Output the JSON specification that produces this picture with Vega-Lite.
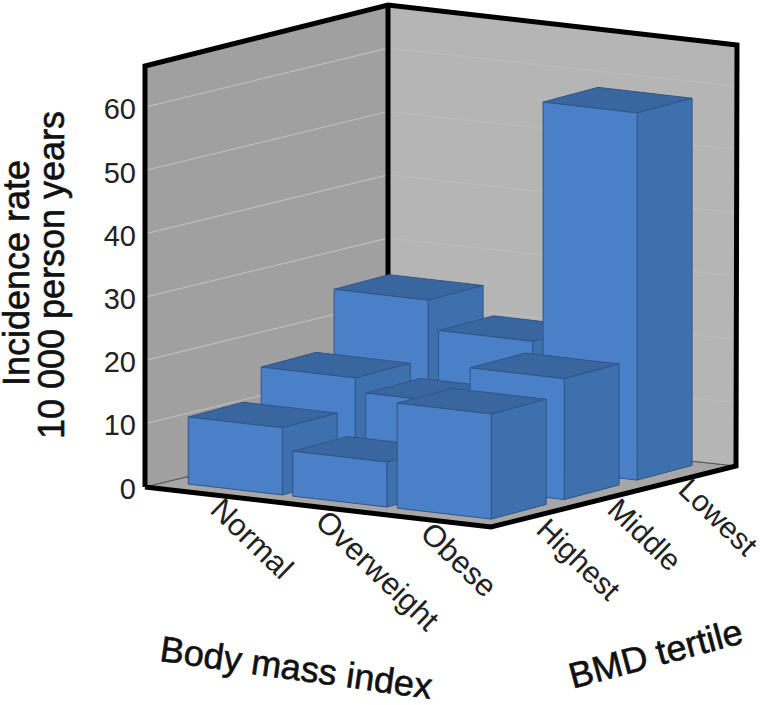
{"$schema":"https://vega.github.io/schema/vega-lite/v6.json","width":768,"height":705,"padding":0,"autosize":"none","background":"white","view":{"stroke":null},"config":{"font":"Liberation Sans"},
"datasets":{"bars":[
{"bmi":"Normal","bmd":"Lowest","rate":24.6},{"bmi":"Overweight","bmd":"Lowest","rate":20},{"bmi":"Obese","bmd":"Lowest","rate":58},
{"bmi":"Normal","bmd":"Middle","rate":15.4},{"bmi":"Overweight","bmd":"Middle","rate":13.2},{"bmi":"Obese","bmd":"Middle","rate":19.1},
{"bmi":"Normal","bmd":"Highest","rate":10.6},{"bmi":"Overweight","bmd":"Highest","rate":7.1},{"bmi":"Obese","bmd":"Highest","rate":16.6}],
"ticks":[{"v":0},{"v":10},{"v":20},{"v":30},{"v":40},{"v":50},{"v":60}],
"walls":[{"wall":"floor"},{"wall":"left"},{"wall":"back"}]},
"projection":{"type":"identity","scale":1,"translate":[0,0]},
"resolve":{"scale":{"fill":"independent"}},
"layer":[
{"data":{"name":"walls"},"transform":[
{"calculate":"{floor:[[145,487],[491,527],[736,466],[388,428]],left:[[145,487],[388,428],[388,5],[145,66]],back:[[388,428],[736,466],[737,45],[388,5]]}[datum.wall]","as":"pts"},
{"calculate":"{type:'Polygon',coordinates:[[datum.pts[0],datum.pts[1],datum.pts[2],datum.pts[3],datum.pts[0]]]}","as":"geo"}],
"mark":{"type":"geoshape","stroke":"#555555","strokeWidth":1},
"encoding":{"shape":{"field":"geo","type":"geojson"},"fill":{"field":"wall","type":"nominal","legend":null,"scale":{"domain":["floor","left","back"],"range":["#a6a6a6","#a0a0a0","#b5b5b5"]}}}},
{"data":{"name":"ticks"},"transform":[{"filter":"datum.v>0"},
{"calculate":"{type:'LineString',coordinates:[[145,487-6.33*datum.v],[388,428-6.33*datum.v]]}","as":"geo"}],
"mark":{"type":"geoshape","filled":false,"stroke":"#bebebe","strokeWidth":1.2},
"encoding":{"shape":{"field":"geo","type":"geojson"}}},
{"data":{"name":"ticks"},"transform":[{"filter":"datum.v>0"},
{"calculate":"{type:'LineString',coordinates:[[388,428-6.33*datum.v],[736,466-6.33*datum.v]]}","as":"geo"}],
"mark":{"type":"geoshape","filled":false,"stroke":"#bdbdbd","strokeWidth":1},
"encoding":{"shape":{"field":"geo","type":"geojson"}}},
{"data":{"values":[{"edge":"outline"},{"edge":"corner"}]},"transform":[
{"calculate":"datum.edge=='outline'?{type:'LineString',coordinates:[[145,487],[491,527],[736,466],[737,45],[388,5],[145,66],[145,487]]}:{type:'LineString',coordinates:[[388,5],[388,428]]}","as":"geo"}],
"mark":{"type":"geoshape","filled":false,"stroke":"black","strokeWidth":5,"strokeJoin":"miter"},
"encoding":{"shape":{"field":"geo","type":"geojson"}}},
{"data":{"name":"bars"},"transform":[
{"calculate":"['top','side','front']","as":"face"},{"flatten":["face"]},
{"calculate":"0.065+0.302*indexof(['Normal','Overweight','Obese'],datum.bmi)","as":"u0"},
{"calculate":"0.0855+0.30*indexof(['Highest','Middle','Lowest'],datum.bmd)","as":"v0"},
{"calculate":"datum.u0+0.272","as":"u1"},{"calculate":"datum.v0+0.226","as":"v1"},
{"calculate":"datum.face=='top'?[[datum.u0,datum.v0,datum.rate],[datum.u1,datum.v0,datum.rate],[datum.u1,datum.v1,datum.rate],[datum.u0,datum.v1,datum.rate]]:datum.face=='side'?[[datum.u1,datum.v0,0],[datum.u1,datum.v1,0],[datum.u1,datum.v1,datum.rate],[datum.u1,datum.v0,datum.rate]]:[[datum.u0,datum.v0,0],[datum.u1,datum.v0,0],[datum.u1,datum.v0,datum.rate],[datum.u0,datum.v0,datum.rate]]","as":"p"},
{"calculate":"{type:'Polygon',coordinates:[[[145+346*datum.p[0][0]+243*datum.p[0][1],487+40*datum.p[0][0]-65*datum.p[0][1]-6.33*datum.p[0][2]],[145+346*datum.p[1][0]+243*datum.p[1][1],487+40*datum.p[1][0]-65*datum.p[1][1]-6.33*datum.p[1][2]],[145+346*datum.p[2][0]+243*datum.p[2][1],487+40*datum.p[2][0]-65*datum.p[2][1]-6.33*datum.p[2][2]],[145+346*datum.p[3][0]+243*datum.p[3][1],487+40*datum.p[3][0]-65*datum.p[3][1]-6.33*datum.p[3][2]],[145+346*datum.p[0][0]+243*datum.p[0][1],487+40*datum.p[0][0]-65*datum.p[0][1]-6.33*datum.p[0][2]]]]}","as":"geo"}],
"mark":{"type":"geoshape","stroke":"#2f5587","strokeWidth":1},
"encoding":{"shape":{"field":"geo","type":"geojson"},"fill":{"field":"face","type":"nominal","legend":null,"scale":{"domain":["top","side","front"],"range":["#3a669f","#3f70ae","#4a80c8"]}}}},
{"data":{"name":"ticks"},"transform":[{"calculate":"136","as":"px"},{"calculate":"489.5-6.32*datum.v","as":"py"}],
"mark":{"type":"text","align":"right","baseline":"middle","fontSize":29,"color":"#222"},
"encoding":{"x":{"field":"px","type":"quantitative","scale":null},"y":{"field":"py","type":"quantitative","scale":null},"text":{"field":"v","type":"quantitative"}}},
{"data":{"values":[{"t":"Normal","k":0},{"t":"Overweight","k":1},{"t":"Obese","k":2}]},"transform":[{"calculate":"215+105*datum.k","as":"px"},{"calculate":"505+12*datum.k","as":"py"}],
"mark":{"type":"text","align":"left","baseline":"middle","fontSize":31,"angle":44,"color":"#222"},
"encoding":{"x":{"field":"px","type":"quantitative","scale":null},"y":{"field":"py","type":"quantitative","scale":null},"text":{"field":"t"}}},
{"data":{"values":[{"t":"Highest","k":0},{"t":"Middle","k":1},{"t":"Lowest","k":2}]},"transform":[{"calculate":"541+71*datum.k","as":"px"},{"calculate":"525-20*datum.k","as":"py"}],
"mark":{"type":"text","align":"left","baseline":"middle","fontSize":30,"angle":44,"color":"#222"},
"encoding":{"x":{"field":"px","type":"quantitative","scale":null},"y":{"field":"py","type":"quantitative","scale":null},"text":{"field":"t"}}},
{"data":{"values":[{"t":"Body mass index","px":296,"py":669,"a":8},{"t":"BMD tertile","px":656,"py":655,"a":-15},{"t":"Incidence rate","px":18,"py":273,"a":-90},{"t":"10 000 person years","px":53,"py":275,"a":-90}]},
"mark":{"type":"text","align":"center","baseline":"middle","fontSize":36,"stroke":"#111","strokeWidth":0.6,"color":"#111"},
"encoding":{"x":{"field":"px","type":"quantitative","scale":null},"y":{"field":"py","type":"quantitative","scale":null},"text":{"field":"t"},"angle":{"field":"a","type":"quantitative","scale":null}}}
]}
